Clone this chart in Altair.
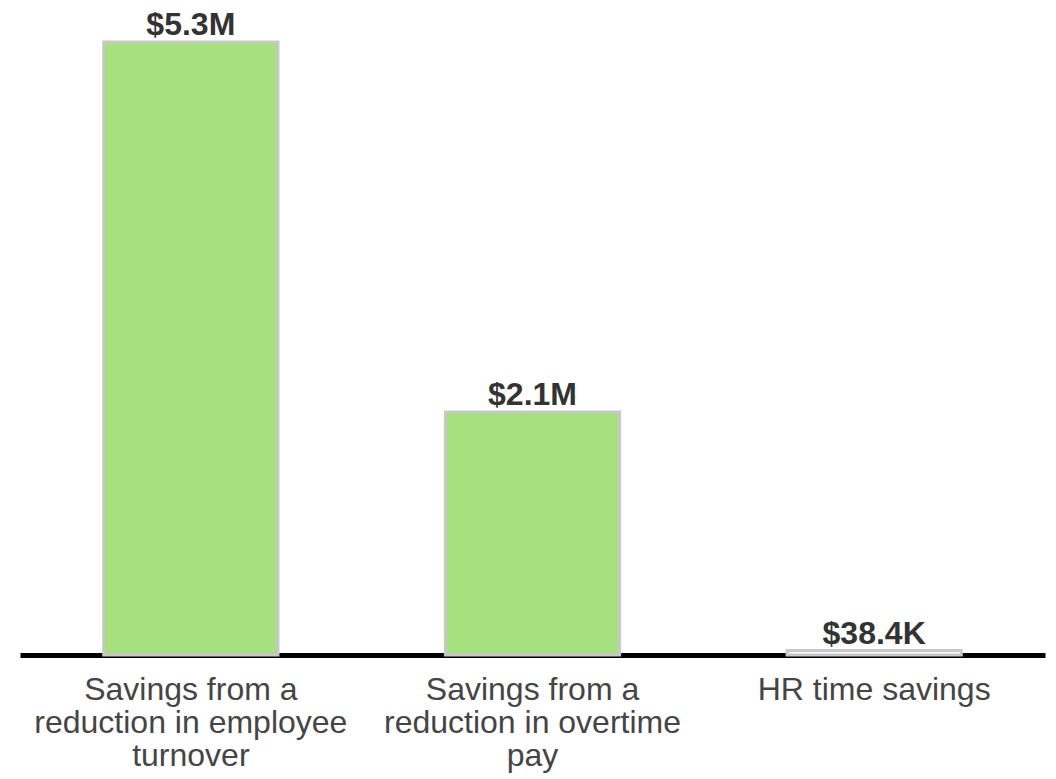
import altair as alt
import pandas as pd

categories = [
    "Savings from a\nreduction in employee\nturnover",
    "Savings from a\nreduction in overtime\npay",
    "HR time savings",
]
values = [5.3, 2.1, 0.0384]  # millions of dollars
value_labels = ["$5.3M", "$2.1M", "$38.4K"]
fills = ["#a6e07f", "#a6e07f", "#ffffff"]

df = pd.DataFrame({
    "category": categories,
    "value": values,
    "label": value_labels,
    "fill": fills,
})

x = alt.X(
    "category:N",
    sort=categories,
    title=None,
    scale=alt.Scale(paddingInner=0.49, paddingOuter=0.245),
    axis=alt.Axis(
        labelAngle=0,
        labelExpr="split(datum.label, '\\n')",
        labelFont="Liberation Sans",
        labelFontSize=32,
        labelLineHeight=33,
        labelColor="#454545",
        labelPadding=19,
        labelBaseline="top",
        labelLimit=0,
        ticks=False,
        domain=True,
        domainColor="#000000",
        domainWidth=5,
        zindex=0,
    ),
)
y = alt.Y(
    "value:Q",
    scale=alt.Scale(domain=[0, 5.3], nice=False),
    axis=None,
)

bars = alt.Chart(df).mark_bar(
    stroke="#c8c8c8", strokeWidth=3
).encode(
    x=x,
    y=y,
    fill=alt.Fill("fill:N", scale=None),
)

text = alt.Chart(df).mark_text(
    font="Liberation Sans",
    fontSize=32,
    fontWeight="bold",
    color="#333333",
    baseline="alphabetic",
    dy=-7,
).encode(
    x=alt.X("category:N", sort=categories),
    y="value:Q",
    text="label:N",
)

chart = alt.layer(bars, text).properties(
    width=1025,
    height=613,
    background="#ffffff",
    padding={"left": 20, "top": 42, "right": 11, "bottom": 124},
    autosize=alt.AutoSizeParams(type="none"),
).configure_view(strokeWidth=0, stroke=None)

chart.save("out.html", embed_options={"renderer": "svg", "actions": False})
